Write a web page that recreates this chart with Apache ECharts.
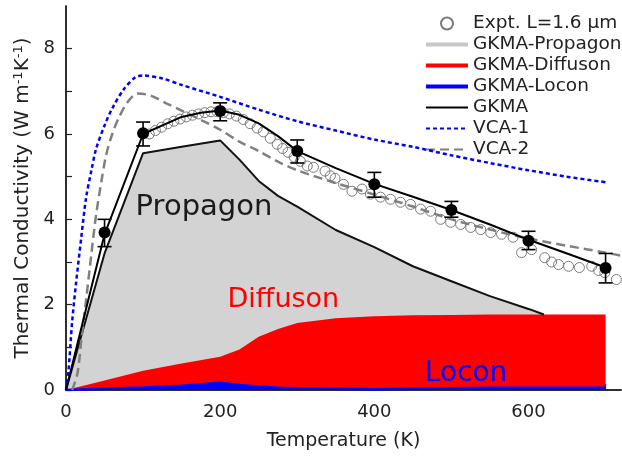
<!DOCTYPE html>
<html>
<head>
<meta charset="utf-8">
<script src="https://cdn.jsdelivr.net/npm/echarts@6/dist/echarts.min.js"></script>
<style>
  html, body { margin: 0; padding: 0; background: #fff; }
  #main { width: 622px; height: 461px; }
</style>
</head>
<body>
<div id="main"></div>
<script>
// GKMA breakdown (contributions of each kind of mode)
var tempK = [0, 50, 100, 150, 200, 225, 250, 275, 300, 350, 400, 450, 500, 550, 600, 620, 650, 700];
var locon = [0, 0.03, 0.06, 0.1, 0.17, 0.12, 0.08, 0.05, 0.04, 0.03, 0.02, 0.03, 0.04, 0.05, 0.05, 0.05, 0.05, 0.05];
var diffuson = [0, 0.19, 0.39, 0.52, 0.61, 0.83, 1.17, 1.38, 1.53, 1.65, 1.71, 1.72, 1.72, 1.72, 1.72, 1.72, 1.72, 1.72];
var propagon = [0, 2.98, 5.10, 5.08, 5.07, 4.45, 3.65, 3.12, 2.73, 2.07, 1.62, 1.15, 0.79, 0.43, 0.13, 0, null, null];

// GKMA total
var gkmaT = [0, 50, 100, 150, 175, 200, 225, 250, 275, 300, 350, 400, 450, 500, 550, 600, 650, 700];
var gkmaK = [0, 3.65, 6.0, 6.4, 6.5, 6.55, 6.45, 6.25, 5.95, 5.6, 5.2, 4.83, 4.53, 4.22, 3.88, 3.52, 3.2, 2.87];

// GKMA points with error bars
var ptT = [50, 100, 200, 300, 400, 500, 600, 700];
var ptK = [3.69, 6.02, 6.54, 5.6, 4.82, 4.22, 3.5, 2.86];
var errLow = [3.36, 5.72, 6.31, 5.32, 4.52, 4.05, 3.29, 2.51];
var errHigh = [4.0, 6.28, 6.73, 5.86, 5.1, 4.42, 3.72, 3.2];

// VCA curves
var vca1T = [0, 3, 8, 13, 20, 26, 33, 39, 50, 60, 75, 90, 100, 125, 150, 200, 250, 300, 350, 400, 450, 500, 550, 600, 650, 700];
var vca1K = [0, 0.4, 1.6, 2.5, 3.6, 4.5, 5.15, 5.65, 6.2, 6.6, 7.05, 7.33, 7.37, 7.3, 7.15, 6.87, 6.57, 6.3, 6.08, 5.87, 5.7, 5.5, 5.32, 5.15, 5.0, 4.87];
var vca2T = [8, 15, 20, 26, 33, 39, 46, 52, 60, 69, 80, 93, 110, 130, 150, 175, 200, 225, 250, 275, 300, 350, 400, 450, 500, 550, 600, 650, 700, 720];
var vca2K = [0, 0.4, 1.2, 2.1, 3.2, 4.1, 4.9, 5.5, 6.0, 6.4, 6.75, 6.95, 6.9, 6.72, 6.55, 6.33, 6.1, 5.82, 5.6, 5.35, 5.15, 4.85, 4.58, 4.3, 4.0, 3.76, 3.55, 3.38, 3.22, 3.15];

// experiment, L = 1.6 um
var exptT = [108, 116, 124, 132, 140, 148, 156, 164, 172, 180, 188, 196, 204, 212, 221, 230, 239, 248, 256, 265, 274, 281, 288, 296, 304, 313, 321, 336, 343, 349, 360, 371, 384, 395, 408, 421, 434, 447, 460, 473, 486, 499, 512, 525, 538, 551, 565, 580, 591, 604, 621, 630, 639, 652, 666, 682, 691, 699, 714];
var exptK = [6.0, 6.08, 6.16, 6.24, 6.3, 6.35, 6.4, 6.44, 6.47, 6.5, 6.52, 6.52, 6.5, 6.47, 6.42, 6.34, 6.24, 6.14, 6.05, 5.9, 5.76, 5.66, 5.57, 5.46, 5.36, 5.25, 5.22, 5.13, 5.02, 4.96, 4.82, 4.66, 4.71, 4.59, 4.52, 4.47, 4.4, 4.35, 4.24, 4.19, 4.0, 3.93, 3.88, 3.81, 3.76, 3.69, 3.65, 3.58, 3.22, 3.29, 3.1, 3.0, 2.94, 2.9, 2.87, 2.9, 2.8, 2.75, 2.59];

// in-plot labels
var noteText = ['Propagon', 'Diffuson', 'Locon'];
var noteT = [179, 282, 519];
var noteK = [4.28, 2.12, 0.38];
var noteColor = ['#1a1a1a', '#ff0000', '#0000ff'];
var noteSize = [29, 27, 28];

var FONT = 'DejaVu Sans';

function pairs(xs, ys) {
    return xs.map(function (x, i) { return [x, ys[i]]; });
}

// cumulative tops, drawn as overlapping areas from zero
var diffTop = locon.map(function (v, i) { return +(v + diffuson[i]).toFixed(3); });
var propTop = propagon.map(function (v, i) { return v == null ? null : +(v + diffTop[i]).toFixed(3); });

var noSym = { opacity: 0 };

var chart = echarts.init(document.getElementById('main'));

var option = {
    animation: false,
    textStyle: { fontFamily: FONT, color: '#222' },
    grid: { left: 66, right: 1, top: 6, bottom: 71 },
    legend: {
        left: 424,
        top: 13,
        orient: 'vertical',
        padding: 0,
        itemGap: 0,
        itemWidth: 42,
        itemHeight: 12,
        selectedMode: false,
        textStyle: { fontFamily: FONT, fontSize: 18.5, color: '#222', lineHeight: 21 },
        data: [
            { name: 'Expt. L=1.6 \u03bcm' },
            { name: 'GKMA-Propagon', itemStyle: noSym, lineStyle: { color: '#c8c8c8', width: 4 } },
            { name: 'GKMA-Diffuson', itemStyle: noSym, lineStyle: { color: '#ff0000', width: 4 } },
            { name: 'GKMA-Locon', itemStyle: noSym, lineStyle: { color: '#0000ff', width: 4 } },
            { name: 'GKMA', itemStyle: noSym },
            { name: 'VCA-1', itemStyle: noSym },
            { name: 'VCA-2', itemStyle: noSym }
        ]
    },
    xAxis: [{
        type: 'value',
        min: 0, max: 720, interval: 100,
        name: 'Temperature (K)',
        nameLocation: 'middle',
        nameGap: 42,
        nameTextStyle: { fontFamily: FONT, fontSize: 19, color: '#222' },
        axisLine: { onZero: false, lineStyle: { color: '#222', width: 1.5 } },
        axisTick: { inside: true, length: 6, lineStyle: { color: '#222', width: 1.2 } },
        axisLabel: {
            fontFamily: FONT, fontSize: 18, color: '#222', margin: 13, showMaxLabel: false,
            formatter: function (v) { return v % 200 === 0 ? String(v) : ''; }
        },
        splitLine: { show: false }
    }, {
        type: 'value', position: 'top', min: 0, max: 720,
        axisLine: { show: true, lineStyle: { color: '#222', width: 1.5 } },
        axisTick: { show: false }, axisLabel: { show: false }, splitLine: { show: false }
    }],
    yAxis: [{
        type: 'value',
        min: 0, max: 9, interval: 1,
        name: 'Thermal Conductivity (W m{sup|-1}K{sup|-1})',
        nameLocation: 'middle',
        nameGap: 33,
        nameTextStyle: {
            fontFamily: FONT, fontSize: 20, color: '#222',
            rich: { sup: { fontFamily: FONT, fontSize: 13, color: '#222', verticalAlign: 'top', padding: [0, 0, 8, 0] } }
        },
        axisLine: { onZero: false, lineStyle: { color: '#222', width: 1.5 } },
        axisTick: { inside: true, length: 6, lineStyle: { color: '#222', width: 1.2 } },
        axisLabel: {
            fontFamily: FONT, fontSize: 18, color: '#222', margin: 11, showMaxLabel: false,
            formatter: function (v) { return v % 2 === 0 ? String(v) : ''; }
        },
        splitLine: { show: false }
    }, {
        type: 'value', position: 'right', min: 0, max: 9,
        axisLine: { show: true, lineStyle: { color: '#222', width: 1.5 } },
        axisTick: { show: false }, axisLabel: { show: false }, splitLine: { show: false }
    }],
    series: [
        {
            name: 'GKMA-Propagon', type: 'line', symbol: 'none',
            data: pairs(tempK, propTop),
            lineStyle: { color: '#111', width: 2 },
            itemStyle: { color: '#c8c8c8' },
            areaStyle: { color: '#d3d3d3', opacity: 1, origin: 'start' },
            z: 2
        },
        {
            name: 'GKMA-Diffuson', type: 'line', symbol: 'none',
            data: pairs(tempK, diffTop),
            lineStyle: { color: '#ff0000', width: 0 },
            itemStyle: { color: '#ff0000' },
            areaStyle: { color: '#ff0000', opacity: 1, origin: 'start' },
            z: 2
        },
        {
            name: 'GKMA-Locon', type: 'line', symbol: 'none',
            data: pairs(tempK, locon),
            lineStyle: { color: '#0000ff', width: 2.5 },
            itemStyle: { color: '#0000ff' },
            areaStyle: { color: '#0000ff', opacity: 1, origin: 'start' },
            z: 3
        },
        {
            name: 'VCA-1', type: 'line', symbol: 'none', smooth: 0.3,
            data: pairs(vca1T, vca1K),
            lineStyle: { color: '#0000ff', width: 2.5, type: [4, 3] },
            itemStyle: { color: '#0000ff' },
            z: 4
        },
        {
            name: 'VCA-2', type: 'line', symbol: 'none', smooth: 0.3,
            data: pairs(vca2T, vca2K),
            lineStyle: { color: '#808080', width: 2.5, type: [9, 5] },
            itemStyle: { color: '#808080' },
            z: 4
        },
        {
            name: 'Expt. L=1.6 \u03bcm', type: 'scatter', symbol: 'circle', symbolSize: 10,
            data: pairs(exptT, exptK),
            itemStyle: { color: 'rgba(255,255,255,0)', borderColor: '#7a7a7a', borderWidth: 1, opacity: 1 },
            z: 5
        },
        {
            name: 'GKMA', type: 'line', symbol: 'none',
            data: pairs(gkmaT, gkmaK),
            lineStyle: { color: '#000', width: 2 },
            itemStyle: { color: '#000' },
            z: 6
        },
        {
            name: 'GKMA-err', type: 'custom',
            data: ptT.map(function (t, i) { return [t, errLow[i], errHigh[i]]; }),
            encode: { x: 0, y: [1, 2] },
            renderItem: function (params, api) {
                var top = api.coord([api.value(0), api.value(2)]);
                var bot = api.coord([api.value(0), api.value(1)]);
                var w = 7;
                var st = { stroke: '#000', lineWidth: 1.6 };
                return {
                    type: 'group',
                    children: [
                        { type: 'line', shape: { x1: top[0], y1: top[1], x2: bot[0], y2: bot[1] }, style: st },
                        { type: 'line', shape: { x1: top[0] - w, y1: top[1], x2: top[0] + w, y2: top[1] }, style: st },
                        { type: 'line', shape: { x1: bot[0] - w, y1: bot[1], x2: bot[0] + w, y2: bot[1] }, style: st }
                    ]
                };
            },
            z: 7
        },
        {
            name: 'GKMA-pts', type: 'scatter', symbol: 'circle', symbolSize: 12,
            data: pairs(ptT, ptK),
            itemStyle: { color: '#000', opacity: 1 },
            z: 8
        },
        {
            name: 'notes', type: 'scatter', symbolSize: 0, silent: true,
            itemStyle: { opacity: 1 },
            data: noteText.map(function (s, i) {
                return {
                    value: [noteT[i], noteK[i]],
                    label: {
                        show: true, position: 'inside', formatter: s,
                        fontFamily: FONT, fontSize: noteSize[i], color: noteColor[i]
                    }
                };
            }),
            z: 9
        }
    ]
};

chart.setOption(option);
</script>
</body>
</html>
